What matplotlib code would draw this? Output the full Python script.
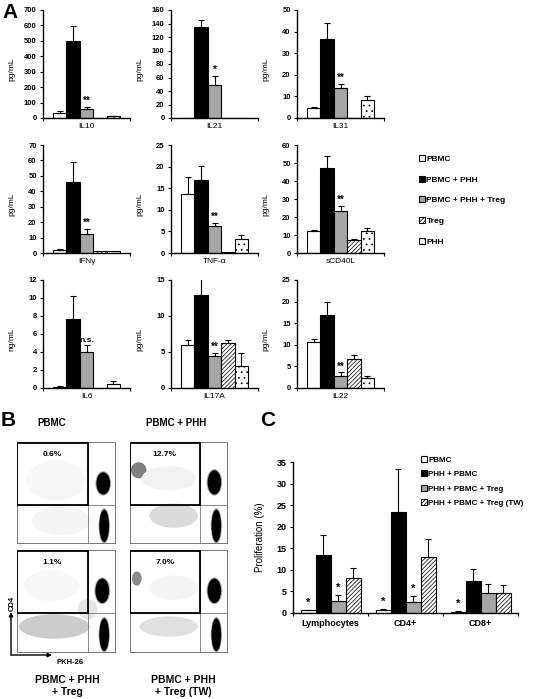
import numpy as np
import matplotlib
matplotlib.use("Agg")
import matplotlib.pyplot as plt
from matplotlib.patches import Rectangle, Ellipse

plt.rcParams['font.family'] = ['Liberation Sans', 'DejaVu Sans']
plt.rcParams['font.weight'] = 'bold'
plt.rcParams['hatch.linewidth'] = 0.5
plt.rcParams['hatch.color'] = 'black'

W = 533
H = 699

# panel A data
groups_A = ["PBMC", "PBMC + PHH", "PBMC + PHH + Treg", "Treg", "PHH"]
cytokines = ["IL10", "IL21", "IL31", "IFN\u03b3", "TNF-\u03b1", "sCD40L", "IL6", "IL17A", "IL22"]
units = ["pg/mL", "pg/mL", "pg/mL", "pg/mL", "pg/mL", "pg/mL", "ng/mL", "pg/mL", "pg/mL"]
ymax = [700, 160, 50, 70, 25, 60, 12, 15, 25]
ystep = [100, 20, 10, 10, 5, 10, 2, 5, 5]
il10 = [33, 500, 60, 0, 10]
il10_err = [12, 95, 12, 0, 3]
il21 = [0, 135.5, 49.5, 0, 0]
il21_err = [0, 9.5, 12.5, 0, 0]
il31 = [4.4, 36.6, 13.8, 0, 8.4]
il31_err = [0.7, 7.2, 2.1, 0, 1.7]
ifng = [1.9, 45.8, 12.1, 1.0, 1.0]
ifng_err = [0.6, 13.0, 3.2, 0, 0]
tnfa = [13.6, 16.9, 6.3, 0.3, 3.2]
tnfa_err = [4.1, 3.3, 0.7, 0, 1.0]
scd40l = [12.2, 47.0, 23.3, 7.2, 12.2]
scd40l_err = [0.6, 7.0, 2.7, 0.6, 1.5]
il6 = [0.15, 7.7, 3.95, 0, 0.5]
il6_err = [0.05, 2.55, 0.85, 0, 0.3]
il17a = [6.0, 12.9, 4.5, 6.3, 3.0]
il17a_err = [0.7, 2.4, 0.4, 0.4, 1.8]
il22 = [10.7, 17.0, 2.8, 6.75, 2.2]
il22_err = [0.7, 2.8, 0.8, 0.9, 0.5]
signif_A = ["**", "*", "**", "**", "**", "**", "n.s.", "**", "**"]

# panel B data
flow_pct = ["0.6%", "12.7%", "1.1%", "7.0%"]
flow_top = ["PBMC", "PBMC + PHH"]
flow_bottom = ["PBMC + PHH\n+ Treg", "PBMC + PHH\n+ Treg (TW)"]
# cell clouds: (x centre, y centre, x radius, y radius, density)
clouds_pbmc = [(0.88, 0.59, 0.07, 0.11, 1.0), (0.89, 0.17, 0.05, 0.16, 1.0),
               (0.40, 0.62, 0.30, 0.20, 0.03), (0.45, 0.22, 0.30, 0.14, 0.04)]
clouds_phh = [(0.87, 0.60, 0.07, 0.12, 1.0), (0.89, 0.17, 0.05, 0.16, 1.0),
              (0.09, 0.72, 0.08, 0.08, 0.5), (0.45, 0.27, 0.25, 0.12, 0.14),
              (0.40, 0.64, 0.28, 0.12, 0.05)]
clouds_treg = [(0.87, 0.60, 0.07, 0.12, 1.0), (0.89, 0.17, 0.05, 0.16, 1.0),
               (0.38, 0.25, 0.36, 0.12, 0.2), (0.72, 0.42, 0.10, 0.10, 0.1),
               (0.35, 0.65, 0.28, 0.15, 0.03)]
clouds_tw = [(0.87, 0.60, 0.07, 0.12, 1.0), (0.89, 0.17, 0.05, 0.16, 1.0),
             (0.07, 0.72, 0.05, 0.07, 0.45), (0.40, 0.25, 0.30, 0.10, 0.12),
             (0.45, 0.63, 0.25, 0.12, 0.04)]

# panel C data
groups_C = ["PBMC", "PHH + PBMC", "PHH + PBMC + Treg", "PHH + PBMC + Treg (TW)"]
cells = ["Lymphocytes", "CD4+", "CD8+"]
prolif_pbmc = [0.6, 0.7, 0.3]
prolif_pbmc_err = [0.15, 0.2, 0.1]
prolif_phh = [13.5, 23.3, 7.4]
prolif_phh_err = [4.6, 10.0, 2.9]
prolif_treg = [2.7, 2.5, 4.6]
prolif_treg_err = [1.4, 1.4, 2.2]
prolif_tw = [8.0, 12.9, 4.6]
prolif_tw_err = [2.5, 4.3, 2.0]
signif_C = [["*", "", "*", ""], ["*", "", "*", ""], ["*", "", "", ""]]

face = ["white", "black", "#a6a6a6", "white", "white"]
hatch = [None, None, None, "////////", "..."]


def box(x0, y0, x1, y1):
    return [x0 / W, 1 - y1 / H, (x1 - x0) / W, (y1 - y0) / H]


fig = plt.figure(figsize=(W / 100, H / 100), dpi=100)

means = [il10, il21, il31, ifng, tnfa, scd40l, il6, il17a, il22]
errs = [il10_err, il21_err, il31_err, ifng_err, tnfa_err, scd40l_err, il6_err, il17a_err, il22_err]
col_left = [43, 171, 297]
row_top = [10, 145, 280]
bars_A = None
for i in range(9):
    r, c = i // 3, i % 3
    ax = fig.add_axes(box(col_left[c], row_top[r], col_left[c] + 87, row_top[r] + 108))
    x = np.arange(5)
    bars = ax.bar(x, means[i], width=1.0, color=face, edgecolor="black", linewidth=0.8, hatch=hatch, zorder=2)
    if bars_A is None:
        bars_A = bars
    e = np.array(errs[i])
    m = np.array(means[i])
    k = e > 0
    ax.errorbar(x[k], m[k], yerr=[np.zeros(k.sum()), e[k]], fmt="none", ecolor="black",
                elinewidth=0.8, capsize=2, capthick=0.8, zorder=3)
    fs = 6 if signif_A[i] == "n.s." else 7
    ax.text(2, m[2] + e[2] + ymax[i] * 0.01, signif_A[i], ha="center", va="bottom", fontsize=fs)
    ax.set_xlim(-1.25, 5.25)
    ax.set_ylim(0, ymax[i])
    ax.set_yticks(np.arange(0, ymax[i] + 0.1, ystep[i]))
    ax.set_xticks([-1.25, 5.25])
    ax.set_xticklabels([])
    ax.tick_params(axis="both", direction="out", length=2.5, width=0.8, labelsize=5.5, pad=2)
    for s in ["top", "right"]:
        ax.spines[s].set_visible(False)
    ax.spines["left"].set_linewidth(1.0)
    ax.spines["bottom"].set_linewidth(1.0)
    ax.set_ylabel(units[i], fontsize=6)
    ax.yaxis.set_label_coords(-0.32, 0.45)
    ax.set_xlabel(cytokines[i], fontsize=6)
    ax.xaxis.set_label_coords(0.5, -0.05)

fig.legend(bars_A, groups_A, loc="upper left", bbox_to_anchor=(419 / W, 1 - 155 / H),
           frameon=False, fontsize=6, handlelength=0.7, handleheight=0.7, handletextpad=0.2,
           labelspacing=1.55, borderpad=0, borderaxespad=0)

# panel B flow plots
flow_boxes = [(17, 442, 115, 543), (130, 442, 227, 543), (17, 550, 115, 652), (130, 550, 227, 652)]
clouds = [clouds_pbmc, clouds_phh, clouds_treg, clouds_tw]
gx = 0.72
gy = 0.38
for j in range(4):
    ax = fig.add_axes(box(*flow_boxes[j]))
    ax.set_xlim(0, 1)
    ax.set_ylim(0, 1)
    ax.set_xticks([])
    ax.set_yticks([])
    for s in ax.spines.values():
        s.set_color("#777777")
        s.set_linewidth(0.7)
    for cx, cy, rx, ry, d in clouds[j]:
        if d >= 1.0:
            ax.add_patch(Ellipse((cx, cy), 2.3 * rx, 2.2 * ry, color="0.45", alpha=0.6, lw=0))
        ax.add_patch(Ellipse((cx, cy), 2 * rx, 2 * ry, color=str(1 - d), lw=0))
    ax.axvline(gx, color="#777777", lw=0.6)
    ax.axhline(gy, color="#777777", lw=0.6)
    ax.add_patch(Rectangle((0.005, gy), gx - 0.005, 1 - gy - 0.005, fill=False, lw=1.3, ec="black", zorder=5))
    ax.text(gx / 2, 0.88, flow_pct[j], ha="center", va="center", fontsize=6)

fig.text(52 / W, 1 - 423 / H, flow_top[0], ha="center", va="center", fontsize=7)
fig.text(176 / W, 1 - 423 / H, flow_top[1], ha="center", va="center", fontsize=7)
fig.text(67 / W, 1 - 686 / H, flow_bottom[0], ha="center", va="center", fontsize=7.5, linespacing=1.3)
fig.text(183 / W, 1 - 686 / H, flow_bottom[1], ha="center", va="center", fontsize=7.5, linespacing=1.3)
fig.text(12 / W, 1 - 603 / H, "CD4", rotation=90, ha="center", va="center", fontsize=5.5)
fig.text(56 / W, 1 - 662 / H, "PKH-26", ha="left", va="center", fontsize=5.5)
arrow = dict(arrowstyle="-|>", lw=1.0, color="black", shrinkA=0, shrinkB=0, mutation_scale=6)
fig.add_artist(matplotlib.patches.FancyArrowPatch((11 / W, 1 - 655 / H), (11 / W, 1 - 612 / H),
                                                  transform=fig.transFigure, **arrow))
fig.add_artist(matplotlib.patches.FancyArrowPatch((11 / W, 1 - 655 / H), (52 / W, 1 - 655 / H),
                                                  transform=fig.transFigure, **arrow))

# panel C
axc = fig.add_axes(box(293, 462, 518, 613))
pm = [prolif_pbmc, prolif_phh, prolif_treg, prolif_tw]
pe = [prolif_pbmc_err, prolif_phh_err, prolif_treg_err, prolif_tw_err]
xc = np.arange(3)
bars_C = []
for g in range(4):
    xs = xc + (g - 1.5) * 0.2
    b = axc.bar(xs, pm[g], width=0.2, color=face[g], edgecolor="black", linewidth=0.8,
                hatch="////////" if g == 3 else None, zorder=2)
    bars_C.append(b)
    axc.errorbar(xs, pm[g], yerr=[np.zeros(3), pe[g]], fmt="none", ecolor="black",
                 elinewidth=0.8, capsize=2, capthick=0.8, zorder=3)
    for n in range(3):
        if signif_C[n][g]:
            axc.text(xs[n], pm[g][n] + pe[g][n] + 0.5, signif_C[n][g], ha="center", va="bottom", fontsize=8)
axc.set_xlim(-0.5, 2.5)
axc.set_ylim(0, 35)
axc.set_yticks(np.arange(0, 36, 5))
axc.set_xticks([-0.5, 0.5, 1.5, 2.5])
axc.set_xticklabels([])
axc.set_xticks(xc, minor=True)
axc.set_xticklabels(cells, minor=True)
axc.tick_params(axis="x", which="minor", length=0, labelsize=6.5, pad=4)
axc.tick_params(axis="both", which="major", direction="out", length=2.5, width=0.8, labelsize=6.5, pad=2)
for s in ["top", "right"]:
    axc.spines[s].set_visible(False)
axc.spines["left"].set_linewidth(1.0)
axc.spines["bottom"].set_linewidth(1.0)
axc.set_ylabel("Proliferation (%)", fontsize=7)
axc.yaxis.set_label_coords(-0.125, 0.5)
fig.legend(bars_C, groups_C, loc="upper left", bbox_to_anchor=(421 / W, 1 - 456 / H),
           frameon=False, fontsize=5.8, handlelength=0.7, handleheight=0.7, handletextpad=0.2,
           labelspacing=0.85, borderpad=0, borderaxespad=0)

fig.text(10 / W, 1 - 12 / H, "A", ha="center", va="center", fontsize=15)
fig.text(8 / W, 1 - 420 / H, "B", ha="center", va="center", fontsize=15)
fig.text(268 / W, 1 - 420 / H, "C", ha="center", va="center", fontsize=15)

fig.savefig("out.png", dpi=100)
